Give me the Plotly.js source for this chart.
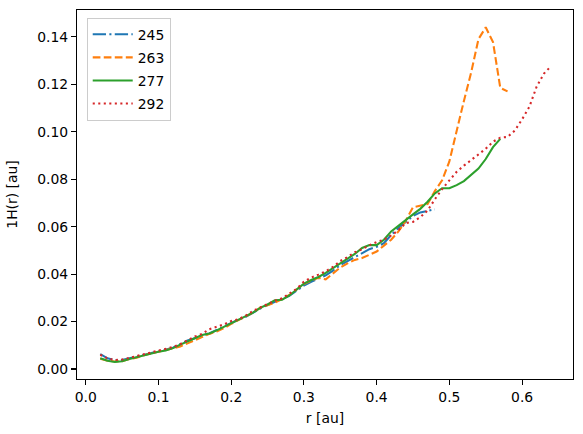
<!DOCTYPE html>
<html>
<head>
<meta charset="utf-8">
<script src="https://cdn.plot.ly/plotly-3.0.1.min.js"></script>
<style>html,body{margin:0;padding:0;background:#fff;}#chart{width:583px;height:434px;}</style>
</head>
<body>
<div id="chart"></div>
<script>
// r grid (au)
const rGrid = [0.02,0.03,0.04,0.05,0.06,0.07,0.08,0.09,0.10,0.11,0.12,0.13,0.14,0.15,0.16,0.17,0.18,0.19,0.20,0.21,0.22,0.23,0.24,0.25,0.26,0.27,0.28,0.29,0.30,0.31,0.32,0.33,0.34,0.35,0.36,0.37,0.38,0.39,0.40,0.41,0.42,0.43,0.44,0.45,0.46,0.47,0.48,0.49,0.50,0.51,0.52,0.53,0.54,0.55,0.56,0.57,0.58,0.59,0.60,0.61,0.62,0.63,0.64];

const seriesNames = ["245","263","277","292"];

const h245 = [0.0063,0.0045,0.0037,0.0038,0.0045,0.0052,0.0060,0.0068,0.0075,0.0080,0.0090,0.0105,0.0120,0.0130,0.0142,0.0150,0.0165,0.0180,0.0195,0.0208,0.0220,0.0238,0.0255,0.0270,0.0282,0.0295,0.0308,0.0330,0.0352,0.0368,0.0380,0.0395,0.0415,0.0438,0.0455,0.0472,0.0488,0.0505,0.0515,0.0530,0.0565,0.0595,0.0620,0.0645,0.0660,0.0665,0.0673];

const h263 = [0.0043,0.0035,0.0032,0.0033,0.0042,0.0048,0.0058,0.0065,0.0072,0.0078,0.0088,0.0095,0.0108,0.0122,0.0135,0.0148,0.0158,0.0172,0.0190,0.0205,0.0220,0.0238,0.0258,0.0268,0.0280,0.0295,0.0312,0.0335,0.0358,0.0372,0.0385,0.0378,0.0405,0.0428,0.0445,0.0460,0.0468,0.0480,0.0495,0.0520,0.0545,0.0580,0.0625,0.0682,0.0690,0.0695,0.0750,0.0795,0.0875,0.1006,0.1130,0.1250,0.1390,0.1440,0.1378,0.1185,0.1170];

const h277 = [0.0045,0.0035,0.0030,0.0033,0.0042,0.0050,0.0058,0.0066,0.0073,0.0078,0.0088,0.0103,0.0118,0.0130,0.0143,0.0150,0.0163,0.0178,0.0195,0.0208,0.0222,0.0238,0.0258,0.0272,0.0290,0.0292,0.0310,0.0335,0.0360,0.0375,0.0388,0.0405,0.0425,0.0445,0.0462,0.0485,0.0510,0.0523,0.0522,0.0545,0.0580,0.0605,0.0630,0.0652,0.0675,0.0705,0.0740,0.0762,0.0762,0.0775,0.0792,0.0817,0.0845,0.0885,0.0935,0.0970];

const h292 = [0.0060,0.0045,0.0038,0.0040,0.0047,0.0055,0.0063,0.0070,0.0077,0.0085,0.0093,0.0105,0.0122,0.0137,0.0148,0.0168,0.0178,0.0188,0.0202,0.0210,0.0225,0.0245,0.0260,0.0275,0.0288,0.0298,0.0318,0.0338,0.0368,0.0385,0.0398,0.0412,0.0430,0.0455,0.0472,0.0492,0.0505,0.0522,0.0535,0.0545,0.0563,0.0585,0.0615,0.0620,0.0640,0.0668,0.0715,0.0758,0.0795,0.0831,0.0857,0.0880,0.0902,0.0928,0.0958,0.0975,0.0978,0.1005,0.1052,0.1105,0.1190,0.1245,0.1277];

const xTickVals = [0.0,0.1,0.2,0.3,0.4,0.5,0.6];
const xTickText = ["0.0","0.1","0.2","0.3","0.4","0.5","0.6"];
const yTickVals = [0.00,0.02,0.04,0.06,0.08,0.10,0.12,0.14];
const yTickText = ["0.00","0.02","0.04","0.06","0.08","0.10","0.12","0.14"];

const colors = ["#1f77b4","#ff7f0e","#2ca02c","#d62728"];
const dashes = ["13.3px,3.33px,2.08px,3.33px","7.7px,3.33px","solid","2.08px,3.44px"];
const values = [h245,h263,h277,h292];

const traces = values.map((v,i)=>({
  x: rGrid.slice(0, v.length),
  y: v,
  name: seriesNames[i],
  legendgroup: seriesNames[i],
  type: "scatter",
  mode: "lines",
  line: {color: colors[i], width: 2.08, dash: dashes[i]}
}));

const font = {family: "DejaVu Sans, sans-serif", size: 13.9, color: "#000"};
const axisCommon = {
  showline: true, linecolor: "#000", linewidth: 1.1, mirror: true,
  ticks: "outside", ticklen: 4.9, tickwidth: 1.1, tickcolor: "#000",
  showgrid: false, zeroline: false, tickfont: font, automargin: false
};

const layout = {
  width: 583, height: 434,
  margin: {l: 77, r: 10, t: 10, b: 55},
  paper_bgcolor: "#fff", plot_bgcolor: "#fff",
  font: font,
  showlegend: true,
  legend: {x: 0.0196, y: 0.979, xanchor: "left", yanchor: "top",
    bgcolor: "rgba(255,255,255,0.8)", bordercolor: "#cccccc", borderwidth: 1,
    font: font, tracegroupgap: 2, itemwidth: 40},
  xaxis: Object.assign({}, axisCommon, {
    range: [-0.012, 0.670], tickvals: xTickVals, ticktext: xTickText,
    title: {text: "r [au]", font: font, standoff: 9}
  }),
  yaxis: Object.assign({}, axisCommon, {
    range: [-0.0042, 0.1513], tickvals: yTickVals, ticktext: yTickText,
    title: {text: "1H(r) [au]", font: font, standoff: 16}
  })
};

Plotly.newPlot("chart", traces, layout, {displayModeBar: false, staticPlot: true});
</script>
</body>
</html>
